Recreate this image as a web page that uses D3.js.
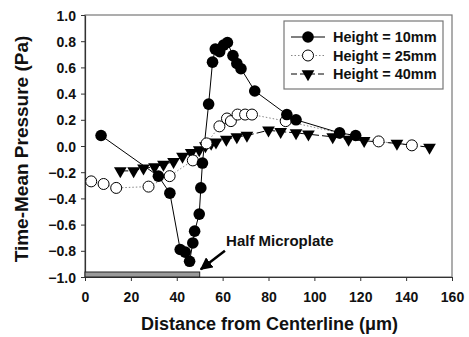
<!DOCTYPE html>
<html>
<head>
<meta charset="utf-8">
<script src="https://cdn.jsdelivr.net/npm/d3@7"></script>
<style>
  html, body { margin: 0; padding: 0; background: #fff; }
  svg { display: block; font-family: Arial, "Liberation Sans", sans-serif; }
</style>
</head>
<body>
<svg id="chart" width="469" height="337"></svg>
<script>
// Data
const xTicks = [0, 20, 40, 60, 80, 100, 120, 140, 160];
const yTicks = [-1.0, -0.8, -0.6, -0.4, -0.2, 0.0, 0.2, 0.4, 0.6, 0.8, 1.0];
const seriesNames = ["Height = 10mm", "Height = 25mm", "Height = 40mm"];

const h10x = [7, 32, 37, 41.5, 43.7, 45.6, 47, 47.8, 49.8, 50.5, 51.2, 53.9, 55.6, 56.8, 58.7, 60.4, 62.1, 64.5, 66.2, 68, 74, 88, 92, 111, 118];
const h10y = [0.08, -0.23, -0.36, -0.79, -0.81, -0.88, -0.74, -0.65, -0.52, -0.32, -0.13, 0.32, 0.64, 0.74, 0.72, 0.77, 0.79, 0.69, 0.63, 0.59, 0.42, 0.24, 0.20, 0.10, 0.08];

const h25x = [2.7, 8.1, 13.6, 27.7, 36.9, 47, 53, 58.6, 61.9, 63.6, 66.5, 69.8, 72.8, 87.5, 128, 142.5];
const h25y = [-0.27, -0.29, -0.32, -0.31, -0.23, -0.11, 0.02, 0.15, 0.21, 0.19, 0.24, 0.24, 0.24, 0.19, 0.035, 0.005];

const h40x = [15.4, 21.2, 25.5, 30.3, 34.2, 38.6, 42.5, 46.3, 49.8, 52.5, 55, 57.1, 61.6, 66.2, 70.6, 80, 85.3, 92, 97.4, 108, 114.9, 121.7, 136, 150.2];
const h40y = [-0.19, -0.19, -0.17, -0.16, -0.14, -0.12, -0.08, -0.05, -0.03, 0.0, 0.02, 0.03, 0.05, 0.07, 0.08, 0.12, 0.11, 0.10, 0.09, 0.07, 0.05, 0.04, 0.02, -0.01];

const plateRange = [0, 50];
const plateLabel = "Half Microplate";

// Layout
const svg = d3.select("#chart");
const m = { left: 85, right: 17, top: 15, bottom: 60 };
const W = 469, H = 337;
const x = d3.scaleLinear().domain([0, 160]).range([m.left, W - m.right]);
const y = d3.scaleLinear().domain([-1, 1]).range([H - m.bottom, m.top]);

// Frame (top/right)
svg.append("rect")
  .attr("x", x(0)).attr("y", y(1))
  .attr("width", x(160) - x(0)).attr("height", y(-1) - y(1))
  .attr("fill", "none").attr("stroke", "#777").attr("stroke-width", 1.2);

// Axes
const xAxis = svg.append("g").attr("transform", `translate(0,${y(-1)})`)
  .call(d3.axisBottom(x).tickValues(xTicks).tickFormat(d3.format("d")).tickSize(4).tickSizeOuter(0));
const yAxis = svg.append("g").attr("transform", `translate(${x(0)},0)`)
  .call(d3.axisLeft(y).tickValues(yTicks).tickFormat(d3.format(".1f")).tickSize(4).tickSizeOuter(0));
[xAxis, yAxis].forEach(a => {
  a.select(".domain").attr("stroke", "#333").attr("stroke-width", 1.2);
  a.selectAll(".tick line").attr("stroke", "#333");
  a.selectAll("text").attr("font-size", 14).attr("font-weight", "bold")
    .attr("fill", "#111").attr("font-family", "Arial, 'Liberation Sans', sans-serif");
});
xAxis.selectAll("text").attr("y", 10).attr("dy", "1.05em");
yAxis.selectAll("text").attr("x", -9).attr("dy", "0.36em");

// Axis titles
svg.append("text")
  .attr("x", (x(0) + x(160)) / 2 + 1).attr("y", 330)
  .attr("text-anchor", "middle").attr("font-size", 18).attr("font-weight", "bold").attr("fill", "#111")
  .text("Distance from Centerline (\u03BCm)");
svg.append("text")
  .attr("transform", `translate(28,${(y(1) + y(-1)) / 2 + 3}) rotate(-90)`)
  .attr("text-anchor", "middle").attr("font-size", 19).attr("font-weight", "bold").attr("fill", "#111")
  .text("Time-Mean Pressure (Pa)");

// Half microplate bar
svg.append("rect")
  .attr("x", x(plateRange[0])).attr("y", y(-1) - 5)
  .attr("width", x(plateRange[1]) - x(plateRange[0])).attr("height", 5)
  .attr("fill", "#9a9a9a").attr("stroke", "#222").attr("stroke-width", 1);

// Arrow
const defs = svg.append("defs");
defs.append("marker").attr("id", "arrowhead")
  .attr("viewBox", "0 0 10 10").attr("refX", 9).attr("refY", 5)
  .attr("markerWidth", 5).attr("markerHeight", 5).attr("orient", "auto")
  .append("path").attr("d", "M0,0 L10,5 L0,10 Z").attr("fill", "#000");
svg.append("line")
  .attr("x1", x(61)).attr("y1", y(-0.8))
  .attr("x2", x(50.5)).attr("y2", y(-0.94))
  .attr("stroke", "#000").attr("stroke-width", 2.5)
  .attr("marker-end", "url(#arrowhead)");
svg.append("text")
  .attr("x", x(61.5)).attr("y", y(-0.76))
  .attr("font-size", 15).attr("font-weight", "bold").attr("fill", "#111")
  .text(plateLabel);

// Series
const line = d3.line().x(d => x(d[0])).y(d => y(d[1]));
const s10 = h10x.map((v, i) => [v, h10y[i]]);
const s25 = h25x.map((v, i) => [v, h25y[i]]);
const s40 = h40x.map((v, i) => [v, h40y[i]]);

svg.append("path").datum(s25).attr("d", line).attr("fill", "none")
  .attr("stroke", "#888").attr("stroke-width", 1).attr("stroke-dasharray", "1.5,2");
svg.append("path").datum(s40).attr("d", line).attr("fill", "none")
  .attr("stroke", "#000").attr("stroke-width", 1).attr("stroke-dasharray", "8,3");
svg.append("path").datum(s10).attr("d", line).attr("fill", "none")
  .attr("stroke", "#000").attr("stroke-width", 1);

const tri = d3.symbol().type(d3.symbolTriangle).size(70);
function triDown(g, px, py) {
  g.append("path").attr("d", tri()).attr("transform", `translate(${px},${py}) rotate(180)`)
    .attr("fill", "#000");
}

svg.append("g").selectAll("path").data(s40).join("path")
  .attr("d", tri()).attr("transform", d => `translate(${x(d[0])},${y(d[1])}) rotate(180)`)
  .attr("fill", "#000");
svg.append("g").selectAll("circle").data(s25).join("circle")
  .attr("cx", d => x(d[0])).attr("cy", d => y(d[1])).attr("r", 5.5)
  .attr("fill", "#fff").attr("stroke", "#000").attr("stroke-width", 1);
svg.append("g").selectAll("circle").data(s10).join("circle")
  .attr("cx", d => x(d[0])).attr("cy", d => y(d[1])).attr("r", 5.8)
  .attr("fill", "#000");

// Legend
const lg = svg.append("g");
lg.append("rect").attr("x", 284).attr("y", 21).attr("width", 159).attr("height", 68)
  .attr("fill", "#fff").attr("stroke", "#777").attr("stroke-width", 1.2);
const ly = [37, 55.5, 74];
const styles = [
  { stroke: "#000", dash: null },
  { stroke: "#888", dash: "1.5,2" },
  { stroke: "#000", dash: "6,3" }
];
seriesNames.forEach((name, i) => {
  lg.append("line").attr("x1", 291).attr("x2", 325).attr("y1", ly[i]).attr("y2", ly[i])
    .attr("stroke", styles[i].stroke).attr("stroke-width", 1)
    .attr("stroke-dasharray", styles[i].dash);
  if (i === 0) lg.append("circle").attr("cx", 308).attr("cy", ly[i]).attr("r", 5.8).attr("fill", "#000");
  if (i === 1) lg.append("circle").attr("cx", 308).attr("cy", ly[i]).attr("r", 5.5).attr("fill", "#fff").attr("stroke", "#000");
  if (i === 2) triDown(lg, 308, ly[i]);
  lg.append("text").attr("x", 333).attr("y", ly[i]).attr("dy", "0.36em")
    .attr("font-size", 14.5).attr("font-weight", "bold").attr("fill", "#111").text(name);
});
</script>
</body>
</html>
